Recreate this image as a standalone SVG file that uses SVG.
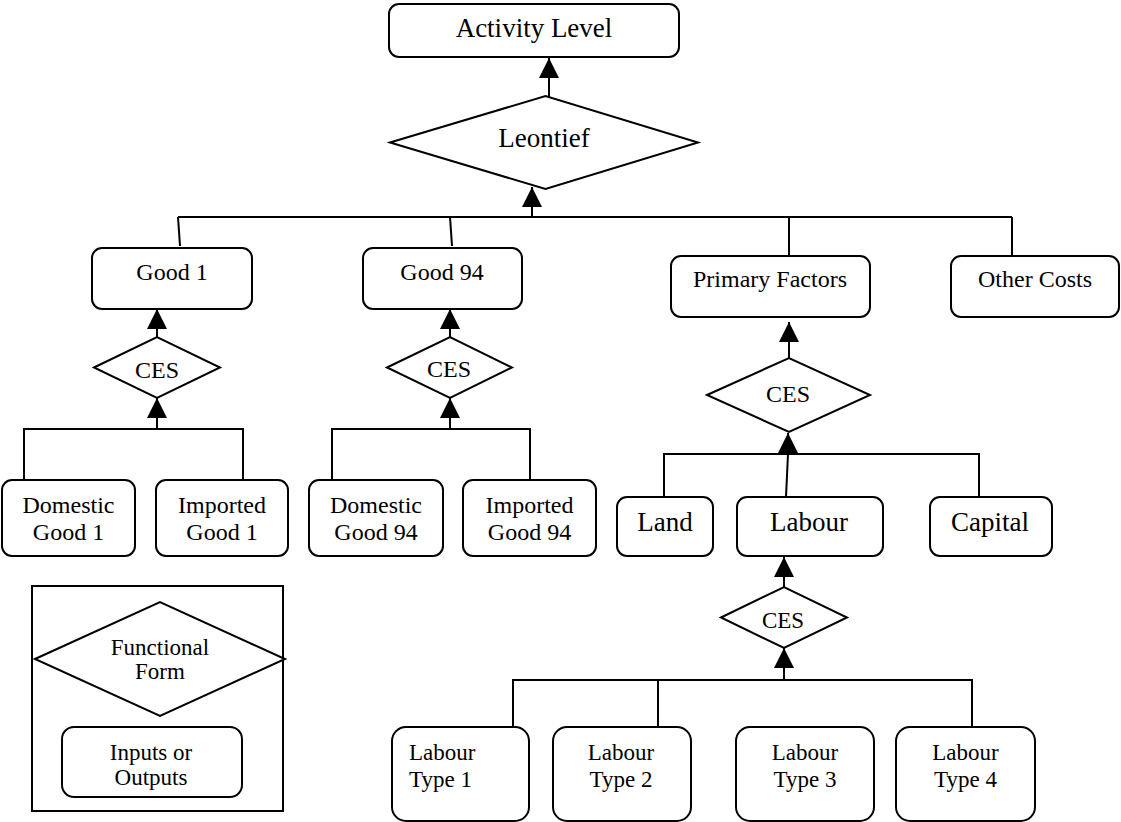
<svg xmlns="http://www.w3.org/2000/svg" width="1121" height="822" viewBox="0 0 1121 822" font-family="Liberation Serif, serif">
  <style>
    .box { fill: #ffffff; stroke: #000000; stroke-width: 2; }
    .dia { fill: #ffffff; stroke: #000000; stroke-width: 2; }
    .frame { fill: none; stroke: #000000; stroke-width: 2; }
    .wire { fill: none; stroke: #000000; stroke-width: 2; }
    text { font-family: 'Liberation Serif', 'DejaVu Serif', serif; fill: #000000; text-anchor: middle; }
    .s24 { font-size: 24px; }
    .s23 { font-size: 23px; }
    .s27 { font-size: 27px; }
    .start { text-anchor: start; }
  </style>
  <defs>
    <marker id="head" markerUnits="userSpaceOnUse" markerWidth="20" markerHeight="20" refX="20" refY="10" orient="auto">
      <path d="M0,0 L20,10 L0,20 Z" fill="#000000"/>
    </marker>
  </defs>

  <rect width="1121" height="822" fill="#ffffff"/>

  <!-- connectors -->
  <g id="connectors">
    <!-- Leontief to Activity Level -->
    <line class="wire" x1="549" y1="97" x2="549" y2="58" marker-end="url(#head)"/>
    <!-- top bus into Leontief -->
    <line class="wire" x1="532" y1="217" x2="532" y2="187" marker-end="url(#head)"/>
    <polyline class="wire" points="178,217 1012,217"/>
    <line class="wire" x1="178" y1="217" x2="180" y2="246"/>
    <line class="wire" x1="450" y1="217" x2="452" y2="246"/>
    <line class="wire" x1="789" y1="217" x2="789" y2="256"/>
    <line class="wire" x1="1012" y1="217" x2="1012" y2="256"/>

    <!-- Good 1 branch -->
    <line class="wire" x1="157" y1="337" x2="157" y2="309" marker-end="url(#head)"/>
    <line class="wire" x1="157" y1="429" x2="157" y2="398" marker-end="url(#head)"/>
    <polyline class="wire" points="24,480 24,429 243,429 243,480"/>

    <!-- Good 94 branch -->
    <line class="wire" x1="450" y1="337" x2="450" y2="309" marker-end="url(#head)"/>
    <line class="wire" x1="450" y1="429" x2="450" y2="398" marker-end="url(#head)"/>
    <polyline class="wire" points="332,480 332,429 530,429 530,480"/>

    <!-- Primary Factors branch -->
    <line class="wire" x1="789" y1="358" x2="789" y2="322" marker-end="url(#head)"/>
    <line class="wire" x1="788" y1="454" x2="788" y2="433" marker-end="url(#head)"/>
    <polyline class="wire" points="664,497 664,454 979,454 979,497"/>
    <line class="wire" x1="788" y1="454" x2="786" y2="497"/>

    <!-- Labour branch -->
    <line class="wire" x1="784" y1="587" x2="784" y2="557" marker-end="url(#head)"/>
    <line class="wire" x1="784" y1="680" x2="784" y2="648" marker-end="url(#head)"/>
    <polyline class="wire" points="513,727 513,680 972,680 972,727"/>
    <line class="wire" x1="658" y1="680" x2="658" y2="727"/>
  </g>

  <!-- nodes -->
  <g id="activity-level">
    <rect class="box" x="389" y="4" width="290" height="53" rx="10"/>
    <text class="s27" x="534" y="37">Activity Level</text>
  </g>
  <g id="leontief">
    <polygon class="dia" points="390,142.5 545.5,96 698,142.5 545.5,189"/>
    <text class="s27" x="544" y="147">Leontief</text>
  </g>

  <g id="good-1">
    <rect class="box" x="92" y="248" width="160" height="61" rx="10"/>
    <text class="s24" x="172" y="280">Good 1</text>
  </g>
  <g id="ces-good-1">
    <polygon class="dia" points="94,367.5 157,337 220,367.5 157,398"/>
    <text class="s24" x="157" y="378">CES</text>
  </g>
  <g id="domestic-good-1">
    <rect class="box" x="2" y="480" width="133" height="76" rx="10"/>
    <text class="s24" x="68.5" y="513">Domestic</text>
    <text class="s24" x="68.5" y="540">Good 1</text>
  </g>
  <g id="imported-good-1">
    <rect class="box" x="156" y="480" width="132" height="76" rx="10"/>
    <text class="s24" x="222" y="513">Imported</text>
    <text class="s24" x="222" y="540">Good 1</text>
  </g>

  <g id="good-94">
    <rect class="box" x="363" y="248" width="159" height="61" rx="10"/>
    <text class="s24" x="442" y="280">Good 94</text>
  </g>
  <g id="ces-good-94">
    <polygon class="dia" points="387,367.5 450,337 512,367.5 450,398"/>
    <text class="s24" x="449" y="377">CES</text>
  </g>
  <g id="domestic-good-94">
    <rect class="box" x="309" y="480" width="134" height="76" rx="10"/>
    <text class="s24" x="376" y="513">Domestic</text>
    <text class="s24" x="376" y="540">Good 94</text>
  </g>
  <g id="imported-good-94">
    <rect class="box" x="463" y="480" width="133" height="76" rx="10"/>
    <text class="s24" x="529.5" y="513">Imported</text>
    <text class="s24" x="529.5" y="540">Good 94</text>
  </g>

  <g id="primary-factors">
    <rect class="box" x="671" y="256" width="199" height="61" rx="10"/>
    <text class="s24" x="770" y="287">Primary Factors</text>
  </g>
  <g id="other-costs">
    <rect class="box" x="951" y="256" width="168" height="61" rx="10"/>
    <text class="s24" x="1035" y="287">Other Costs</text>
  </g>
  <g id="ces-primary">
    <polygon class="dia" points="707,395 789,358 870,395 789,432"/>
    <text class="s24" x="788" y="402">CES</text>
  </g>
  <g id="land">
    <rect class="box" x="617" y="497" width="96" height="59" rx="10"/>
    <text class="s27" x="665" y="531">Land</text>
  </g>
  <g id="labour">
    <rect class="box" x="737" y="497" width="146" height="59" rx="10"/>
    <text class="s27" x="809" y="531">Labour</text>
  </g>
  <g id="capital">
    <rect class="box" x="930" y="497" width="122" height="59" rx="10"/>
    <text class="s27" x="990" y="531">Capital</text>
  </g>

  <g id="ces-labour">
    <polygon class="dia" points="721,617.5 784,587 847,617.5 784,648"/>
    <text class="s23" x="783" y="628">CES</text>
  </g>
  <g id="labour-type-1">
    <rect class="box" x="392" y="727" width="137" height="94" rx="14"/>
    <text class="s23 start" x="409" y="760">Labour</text>
    <text class="s23 start" x="409" y="787">Type 1</text>
  </g>
  <g id="labour-type-2">
    <rect class="box" x="553" y="727" width="138" height="94" rx="14"/>
    <text class="s23" x="621" y="760">Labour</text>
    <text class="s23" x="621" y="787">Type 2</text>
  </g>
  <g id="labour-type-3">
    <rect class="box" x="736" y="727" width="138" height="94" rx="14"/>
    <text class="s23" x="805" y="760">Labour</text>
    <text class="s23" x="805" y="787">Type 3</text>
  </g>
  <g id="labour-type-4">
    <rect class="box" x="896" y="727" width="139" height="94" rx="14"/>
    <text class="s23" x="965.5" y="760">Labour</text>
    <text class="s23" x="965.5" y="787">Type 4</text>
  </g>

  <!-- key -->
  <g id="legend">
    <rect class="frame" x="32" y="586" width="251" height="225"/>
    <polygon class="dia" points="35,659 160,602 285,659 160,716"/>
    <text class="s23" x="160" y="655">Functional</text>
    <text class="s23" x="160" y="679">Form</text>
    <rect class="box" x="62" y="727" width="180" height="70" rx="12"/>
    <text class="s23" x="151" y="760">Inputs or</text>
    <text class="s23" x="151" y="785">Outputs</text>
  </g>
</svg>
